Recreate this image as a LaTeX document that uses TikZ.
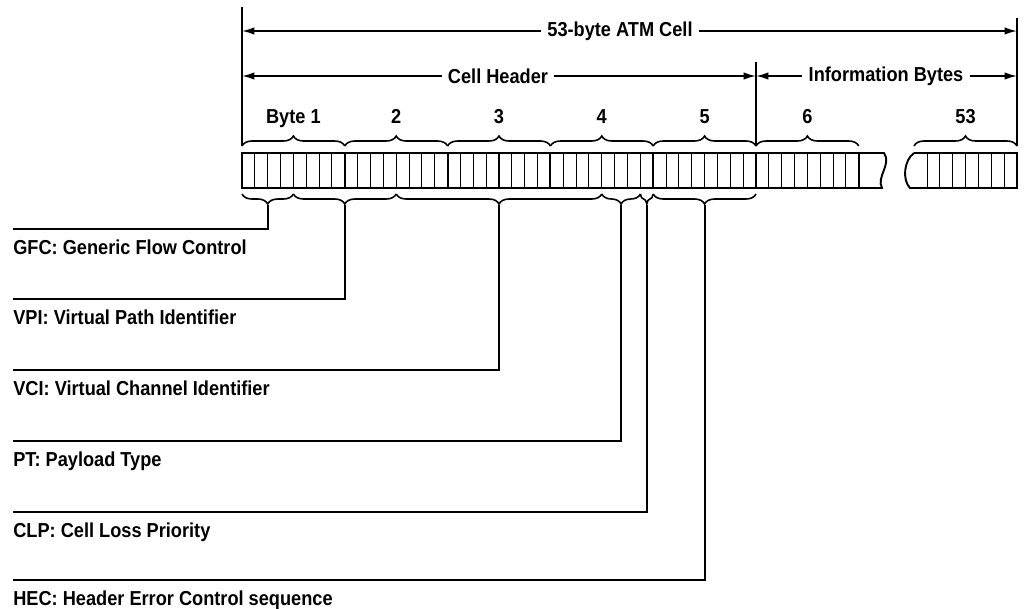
\documentclass[tikz,border=0pt]{standalone}
\usepackage{fontspec}
\setmainfont{Liberation Sans}[FakeStretch=0.9]
\usetikzlibrary{arrows.meta, decorations.pathreplacing, positioning, calc}

\begin{document}
\begin{tikzpicture}[x=0.02cm, y=-0.02cm,
        every node/.style={font=\bfseries\fontsize{11.5}{13}\selectfont},
        rule/.style={line width=1.1pt},
        dim/.style={line width=0.9pt, -{Latex[length=7pt,width=4.2pt]}},
        dimlabel/.style={inner sep=0.12cm},
        bytelabel/.style={anchor=base},
        bytebrace/.style={line width=0.9pt, decorate, decoration={brace, amplitude=0.2cm}},
        fieldbrace/.style={line width=0.9pt, decorate, decoration={brace, mirror, amplitude=0.2cm}},
        cellrow/.style={line width=1.1pt},
        bitline/.style={line width=0.6pt},
        bytebound/.style={line width=1.1pt},
        field/.style={anchor=north west, inner sep=0pt},
        leader/.style={line width=1.1pt}]

    \useasboundingbox (0,0) rectangle (1029,609);

    \coordinate (cellL) at (242,7);
    \coordinate (hdrR) at (756,62);
    \coordinate (cellR) at (1017,18);
    \draw[rule] (cellL) -- (242,146);
    \draw[rule] (hdrR) -- (756,146);
    \draw[rule] (cellR) -- (1017,146);

    \node[dimlabel] (atm) at (620,31) {53-byte ATM Cell};
    \draw[dim] (atm.west) -- (atm.west -| cellL);
    \draw[dim] (atm.east) -- (atm.east -| cellR);
    \node[dimlabel] (hdr) at (498,76) {Cell Header};
    \draw[dim] (hdr.west) -- (hdr.west -| cellL);
    \draw[dim] (hdr.east) -- (hdr.east -| hdrR);
    \node[dimlabel] (info) at (886,76) {Information Bytes};
    \draw[dim] (info.west) -- (info.west -| hdrR);
    \draw[dim] (info.east) -- (info.east -| cellR);

    \node[bytelabel] (b1) at (293.4,123) {Byte 1};
    \node[bytelabel] (b2) at (396.2,123) {2};
    \node[bytelabel] (b3) at (499,123) {3};
    \node[bytelabel] (b4) at (601.8,123) {4};
    \node[bytelabel] (b5) at (704.6,123) {5};
    \node[bytelabel] (b6) at (807.4,123) {6};
    \node[bytelabel] (b53) at (965.5,123) {53};

    \draw[bytebrace] (242,146) -- (344.8,146);
    \draw[bytebrace] (344.8,146) -- (447.6,146);
    \draw[bytebrace] (447.6,146) -- (550.4,146);
    \draw[bytebrace] (550.4,146) -- (653.2,146);
    \draw[bytebrace] (653.2,146) -- (756,146);
    \draw[bytebrace] (756,146) -- (858.8,146);
    \draw[bytebrace] (914,146) -- (1017,146);

    \draw[cellrow] (242,153) -- (884,153) .. controls (892,164) and (876,177) .. (882,188) -- (242,188) -- cycle;
    \foreach \i in {1,...,48}
        \draw[bitline] ({242+12.85*\i},153) -- ++(0,35);
    \foreach \i in {1,...,6}
        \draw[bytebound] ({242+102.8*\i},153) -- ++(0,35);
    \draw[cellrow] (914,153) -- (1017,153) -- (1017,188) -- (910,188) .. controls (902,180) and (904,160) .. (914,153);
    \foreach \i in {1,...,7}
        \draw[bitline] ({1017-12.85*\i},153) -- ++(0,35);

    \draw[fieldbrace] (242,194) -- (293.4,194);
    \draw[fieldbrace] (293.4,194) -- (396.2,194);
    \draw[fieldbrace] (396.2,194) -- (601.8,194);
    \draw[fieldbrace] (601.8,194) -- (640.4,194);
    \draw[fieldbrace] (640.4,194) -- (653.2,194);
    \draw[fieldbrace] (653.2,194) -- (756,194);

    \coordinate (gfc tip) at (267.7,205);
    \coordinate (vpi tip) at (344.8,205);
    \coordinate (vci tip) at (499,205);
    \coordinate (pt tip) at (621.1,205);
    \coordinate (clp tip) at (646.8,205);
    \coordinate (hec tip) at (704.6,205);

    \node[field] (gfc) at (13,240) {GFC: Generic Flow Control};
    \node[field] (vpi) at (13,310) {VPI: Virtual Path Identifier};
    \node[field] (vci) at (13,381) {VCI: Virtual Channel Identifier};
    \node[field] (pt) at (13,452) {PT: Payload Type};
    \node[field] (clp) at (13,523) {CLP: Cell Loss Priority};
    \node[field] (hec) at (13,591) {HEC: Header Error Control sequence};

    \draw[leader] (gfc tip) |- ([yshift=0.22cm]gfc.north west);
    \draw[leader] (vpi tip) |- ([yshift=0.22cm]vpi.north west);
    \draw[leader] (vci tip) |- ([yshift=0.22cm]vci.north west);
    \draw[leader] (pt tip) |- ([yshift=0.22cm]pt.north west);
    \draw[leader] (clp tip) |- ([yshift=0.22cm]clp.north west);
    \draw[leader] (hec tip) |- ([yshift=0.22cm]hec.north west);
\end{tikzpicture}
\end{document}
